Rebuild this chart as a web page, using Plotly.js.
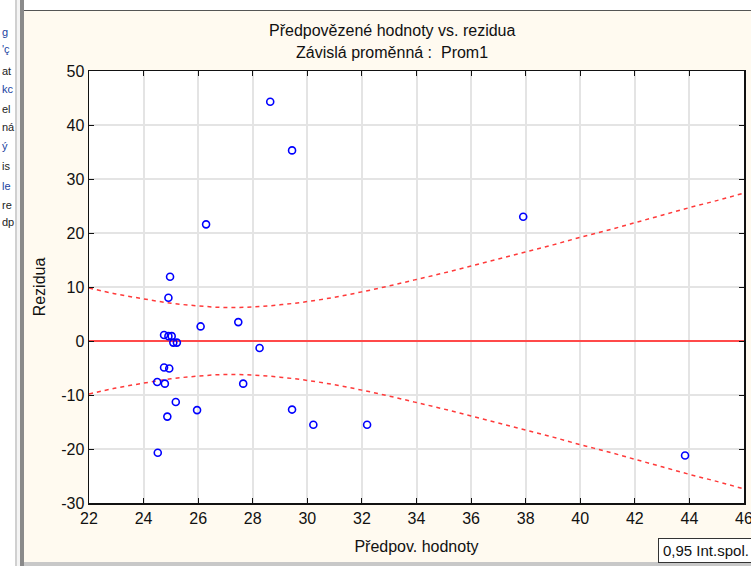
<!DOCTYPE html>
<html>
<head>
<meta charset="utf-8">
<script src="https://cdn.plot.ly/plotly-3.0.1.min.js"></script>
<style>
  html, body { margin:0; padding:0; width:751px; height:566px; overflow:hidden; background:#fffaf0; font-family:"Liberation Sans", Arial, sans-serif; }
  #chart { position:absolute; left:0; top:0; width:751px; height:566px; }
  #leftpane { position:absolute; left:0; top:0; width:15px; height:566px; background:#ffffff; overflow:hidden; }
  #leftpane div { position:absolute; left:2px; font-size:11px; color:#222; white-space:nowrap; }
  #sep1 { position:absolute; left:15px; top:0; width:2px; height:566px; background:#d0d0d0; }
  #sep2 { position:absolute; left:17px; top:0; width:3px; height:566px; background:#f4f4f4; }
  #sep3 { position:absolute; left:20px; top:0; width:4px; height:566px; background:#8a8a8a; }
  #topbar { position:absolute; left:24px; top:0; width:727px; height:10px; background:#ffffff; border-bottom:1px solid #555; }
  #botbar { position:absolute; left:24px; top:562px; width:727px; height:4px; background:#c8c8c8; }
  #legendbox { position:absolute; left:658px; top:538px; width:110px; height:23px; background:#ffffff; border:1px solid #333; font-size:15px; line-height:23px; padding-left:4px; color:#111; white-space:nowrap; }
</style>
</head>
<body>
<div id="leftpane">
  <div style="top:26px;color:#1a3fa0">g</div>
  <div style="top:43px;color:#1a3fa0">'ç</div>
  <div style="top:65px">at</div>
  <div style="top:83px;color:#1a3fa0">kc</div>
  <div style="top:103px">el</div>
  <div style="top:121px">ná</div>
  <div style="top:140px;color:#1a3fa0">ý</div>
  <div style="top:160px">is</div>
  <div style="top:180px;color:#1a3fa0">le</div>
  <div style="top:199px">re</div>
  <div style="top:216px">dp</div>
</div>
<div id="sep1"></div><div id="sep2"></div><div id="sep3"></div>
<div id="topbar"></div>
<div id="botbar"></div>
<div id="chart"></div>
<div id="legendbox">0,95 Int.spol.</div>
<script>
// Predicted values (x) and residuals (y)
const predicted = [28.64, 29.44, 26.29, 37.91, 24.97, 24.91, 26.09, 27.47, 24.75, 24.91,
                   25.03, 25.09, 25.22, 28.25, 24.75, 24.94, 24.50, 24.78, 27.65, 25.18,
                   25.96, 24.87, 24.52, 29.44, 30.22, 32.19, 43.84];
const residuals = [44.3, 35.3, 21.6, 23.0, 11.9, 8.0, 2.7, 3.5, 1.1, 0.9,
                   0.9, -0.3, -0.3, -1.3, -4.9, -5.1, -7.6, -7.9, -7.9, -11.3,
                   -12.8, -14.0, -20.7, -12.7, -15.5, -15.5, -21.2];

// 0.95 confidence band
const bandX = [22, 23, 24, 25, 26, 27, 28, 29, 30, 31, 32, 33, 34, 35, 36, 37, 38, 39, 40, 41, 42, 43, 44, 45, 46];
const bandUpper = [9.8, 8.7, 7.8, 7.0, 6.5, 6.2, 6.3, 6.7, 7.3, 8.1, 9.1, 10.2, 11.4, 12.6, 13.9, 15.2, 16.5, 17.8, 19.2, 20.5, 21.9, 23.3, 24.7, 26.0, 27.4];
const bandLower = [-9.8, -8.7, -7.8, -7.0, -6.5, -6.2, -6.3, -6.7, -7.3, -8.1, -9.1, -10.2, -11.4, -12.6, -13.9, -15.2, -16.5, -17.8, -19.2, -20.5, -21.9, -23.3, -24.7, -26.0, -27.4];

const xTicks = [22, 24, 26, 28, 30, 32, 34, 36, 38, 40, 42, 44, 46];
const yTicks = [-30, -20, -10, 0, 10, 20, 30, 40, 50];

const titleLines = ['Předpovězené hodnoty vs. rezidua', 'Závislá proměnná :  Prom1'];

const traces = [
  { x: bandX, y: bandUpper, mode: 'lines', line: { color: '#ff3a3a', width: 1.5, dash: '4px,4px', shape: 'spline' }, hoverinfo: 'skip', showlegend: false },
  { x: bandX, y: bandLower, mode: 'lines', line: { color: '#ff3a3a', width: 1.5, dash: '4px,4px', shape: 'spline' }, hoverinfo: 'skip', showlegend: false },
  { x: predicted, y: residuals, mode: 'markers', marker: { symbol: 'circle-open', size: 7, color: '#0000ff', line: { width: 1.6, color: '#0000ff' } }, showlegend: false }
];

const layout = {
  width: 751, height: 566,
  paper_bgcolor: 'rgba(0,0,0,0)',
  plot_bgcolor: '#ffffff',
  margin: { l: 89, r: 7, t: 71, b: 63 },
  font: { family: '"Liberation Sans", Arial, sans-serif', color: '#111' },
  annotations: [
    { text: titleLines[0], xref: 'paper', yref: 'paper', x: 0.4626, y: 1.094, xanchor: 'center', yanchor: 'middle', showarrow: false, font: { size: 16, color: '#111' } },
    { text: titleLines[1], xref: 'paper', yref: 'paper', x: 0.4626, y: 1.043, xanchor: 'center', yanchor: 'middle', showarrow: false, font: { size: 16, color: '#111' } }
  ],
  xaxis: {
    range: [22, 46], tickvals: xTicks, ticktext: xTicks.map(String),
    showgrid: true, gridcolor: '#e4e4e4', gridwidth: 2,
    zeroline: false,
    showline: true, linecolor: '#111', linewidth: 1.5, mirror: 'ticks',
    ticks: 'inside', ticklen: 5, tickcolor: '#111',
    ticklabeloverflow: 'allow',
    tickfont: { size: 16, color: '#111' },
    title: { text: 'Předpov. hodnoty', font: { size: 16, color: '#111' }, standoff: 15 }
  },
  yaxis: {
    range: [-30, 50], tickvals: yTicks, ticktext: yTicks.map(String),
    showgrid: true, gridcolor: '#e4e4e4', gridwidth: 2,
    zeroline: true, zerolinecolor: '#ff4a4a', zerolinewidth: 1.5,
    showline: true, linecolor: '#111', linewidth: 1.5, mirror: 'ticks',
    ticks: 'inside', ticklen: 5, tickcolor: '#111',
    tickfont: { size: 16, color: '#111' },
    title: { text: 'Rezidua', font: { size: 16, color: '#111' }, standoff: 11 }
  }
};

Plotly.newPlot('chart', traces, layout, { displayModeBar: false, staticPlot: true });
</script>
</body>
</html>
